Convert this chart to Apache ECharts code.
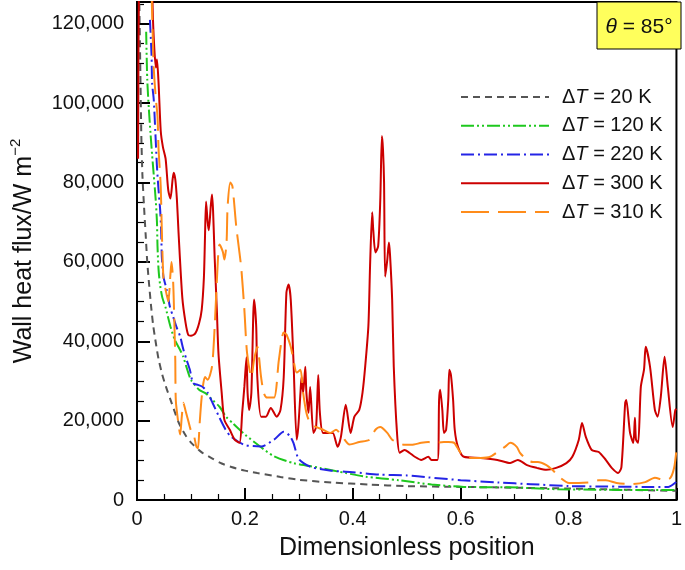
<!DOCTYPE html>
<html>
<head>
<meta charset="utf-8">
<script src="https://cdn.jsdelivr.net/npm/echarts@6/dist/echarts.min.js"></script>
<style>
html,body{margin:0;padding:0;background:#fff;}
#chart{width:685px;height:570px;}
</style>
</head>
<body>
<div id="chart"></div>
<script>
// ---- data (x = dimensionless position, y = wall heat flux W m^-2) ----
const seriesNames = ['ΔT = 20 K', 'ΔT = 120 K', 'ΔT = 220 K', 'ΔT = 300 K', 'ΔT = 310 K'];
const xTickValues = [0, 0.2, 0.4, 0.6, 0.8, 1];
const yTickValues = [0, 20000, 40000, 60000, 80000, 100000, 120000];

const dT20 = [[0.004,128000],[0.006,110000],[0.008,92000],[0.010,82000],[0.013,74000],[0.016,67000],[0.019,60000],[0.022,55000],[0.026,49000],[0.030,44000],[0.035,39500],[0.040,35500],[0.047,31500],[0.055,28000],[0.062,25300],[0.070,22200],[0.077,19600],[0.090,16300],[0.102,14200],[0.120,12000],[0.139,10500],[0.157,9200],[0.175,8300],[0.200,7400],[0.223,6800],[0.266,5800],[0.300,5100],[0.360,4400],[0.430,3900],[0.500,3500],[0.600,3300],[0.700,3100],[0.800,2900],[0.900,2600],[1.000,2300]];

const dT120 = [[0.017,118000],[0.019,106000],[0.022,98500],[0.025,92500],[0.028,87000],[0.031,82000],[0.035,75000],[0.037,70000],[0.038,64000],[0.040,58000],[0.043,54000],[0.047,51000],[0.053,48500],[0.062,43700],[0.070,40400],[0.080,37800],[0.086,36000],[0.091,33800],[0.100,30300],[0.115,27800],[0.128,26800],[0.140,25200],[0.153,23500],[0.165,21000],[0.178,19300],[0.200,16500],[0.230,13300],[0.254,11000],[0.290,9300],[0.339,8100],[0.387,6800],[0.423,5900],[0.485,5000],[0.546,3900],[0.606,3300],[0.690,3200],[0.780,2700],[0.850,2600],[0.930,2500],[1.000,2500]];

const dT220 = [[0.024,121000],[0.027,112000],[0.028,105000],[0.031,101000],[0.034,92700],[0.037,84000],[0.040,78000],[0.043,73000],[0.045,67000],[0.046,61400],[0.049,56300],[0.055,53000],[0.061,48700],[0.067,46200],[0.073,43700],[0.080,41200],[0.086,37900],[0.092,35300],[0.098,32800],[0.104,29500],[0.113,29000],[0.122,28500],[0.131,27000],[0.140,24500],[0.152,21000],[0.164,17800],[0.174,16000],[0.199,13900],[0.230,13500],[0.254,15200],[0.272,17200],[0.283,16200],[0.290,14400],[0.300,10300],[0.323,8300],[0.360,7400],[0.400,7000],[0.450,6400],[0.500,6200],[0.540,5700],[0.600,5000],[0.670,4400],[0.730,4000],[0.800,3500],[0.870,3400],[0.940,3300],[0.985,3300],[1.000,4600]];

const dT300 = [[0.002,86000],[0.004,135000],[0.012,170000],[0.026,150000],[0.029,124000],[0.032,114000],[0.035,109000],[0.037,111000],[0.040,105000],[0.044,93000],[0.048,89000],[0.053,86000],[0.058,78000],[0.062,76000],[0.066,80800],[0.068,82500],[0.071,80800],[0.074,75700],[0.077,67400],[0.084,51000],[0.090,44700],[0.095,41600],[0.100,41400],[0.108,42000],[0.115,44500],[0.120,48000],[0.124,56000],[0.126,66000],[0.128,75200],[0.131,70000],[0.133,68000],[0.137,74500],[0.139,77000],[0.141,73000],[0.144,61000],[0.148,48000],[0.151,37000],[0.157,27000],[0.162,20200],[0.172,17700],[0.181,15200],[0.190,14400],[0.195,22000],[0.199,28500],[0.203,36000],[0.205,27000],[0.208,22700],[0.212,27000],[0.217,50500],[0.221,43700],[0.223,31000],[0.230,21000],[0.239,21000],[0.248,23200],[0.259,21000],[0.266,22700],[0.272,31000],[0.277,52300],[0.281,54300],[0.285,50500],[0.290,35300],[0.296,15200],[0.299,18400],[0.303,27000],[0.305,31000],[0.308,27000],[0.312,33600],[0.314,27000],[0.318,22000],[0.321,28500],[0.327,16900],[0.332,18400],[0.336,31500],[0.339,22000],[0.345,16900],[0.358,16900],[0.363,16900],[0.372,13400],[0.378,15900],[0.387,24000],[0.396,16900],[0.403,21000],[0.412,22700],[0.418,27000],[0.423,33600],[0.429,44000],[0.432,58800],[0.436,72500],[0.438,68000],[0.442,62400],[0.447,63900],[0.451,75700],[0.454,91700],[0.456,88400],[0.458,80000],[0.460,56300],[0.464,60600],[0.467,64900],[0.469,61900],[0.473,50500],[0.476,33600],[0.482,16900],[0.487,11900],[0.496,12600],[0.505,11900],[0.515,10900],[0.527,10100],[0.540,10900],[0.546,10100],[0.557,10100],[0.560,25200],[0.562,27800],[0.566,22700],[0.569,16900],[0.573,17700],[0.577,25200],[0.579,32800],[0.582,31500],[0.586,25200],[0.589,17700],[0.595,13400],[0.606,10900],[0.637,10600],[0.668,10100],[0.692,9300],[0.706,10100],[0.723,8800],[0.741,8100],[0.759,7600],[0.777,8100],[0.796,9300],[0.807,10900],[0.819,15200],[0.825,19400],[0.832,15900],[0.843,12600],[0.856,12100],[0.869,10100],[0.880,8100],[0.892,6800],[0.898,8300],[0.905,24500],[0.907,25200],[0.914,16900],[0.920,14400],[0.923,20700],[0.925,15200],[0.929,14400],[0.934,28500],[0.940,33000],[0.943,38600],[0.951,33600],[0.960,22700],[0.965,21000],[0.971,26000],[0.978,36100],[0.984,28500],[0.993,18400],[0.998,22700],[1.000,23000]];

const dT310 = [[0.027,128000],[0.029,118000],[0.031,109000],[0.035,101000],[0.038,96700],[0.040,88400],[0.044,79000],[0.046,68000],[0.049,56000],[0.053,53000],[0.058,50000],[0.062,57000],[0.064,60000],[0.067,55000],[0.069,46000],[0.071,35000],[0.072,25000],[0.077,19000],[0.080,16500],[0.083,21000],[0.086,24500],[0.090,22500],[0.095,20000],[0.100,17500],[0.105,16500],[0.110,13500],[0.113,13000],[0.116,19000],[0.120,26000],[0.126,31000],[0.131,30300],[0.139,33600],[0.144,43700],[0.150,60600],[0.153,64400],[0.159,62600],[0.162,60600],[0.166,64900],[0.168,74000],[0.173,80000],[0.177,79000],[0.184,68900],[0.193,58800],[0.199,48000],[0.204,37100],[0.212,31000],[0.217,35300],[0.223,38600],[0.230,31000],[0.235,27000],[0.241,25800],[0.254,25800],[0.263,35300],[0.272,42200],[0.277,41700],[0.285,38600],[0.290,35300],[0.296,32100],[0.303,32800],[0.308,27000],[0.314,22000],[0.321,19400],[0.332,18400],[0.345,17700],[0.358,16900],[0.369,17700],[0.381,15900],[0.394,14000],[0.412,14600],[0.431,15200],[0.442,17700],[0.451,18400],[0.464,16900],[0.473,15200],[0.485,14400],[0.496,13900],[0.509,13900],[0.527,14400],[0.540,14600],[0.551,14400],[0.569,14600],[0.577,14600],[0.588,14400],[0.600,11900],[0.619,10600],[0.637,10600],[0.655,10900],[0.673,12600],[0.682,13400],[0.692,14400],[0.704,13400],[0.710,11900],[0.723,10100],[0.734,9600],[0.743,9600],[0.759,8800],[0.770,7600],[0.783,5800],[0.801,4300],[0.819,4300],[0.843,4500],[0.856,5000],[0.869,5000],[0.889,4300],[0.916,4000],[0.942,4500],[0.960,5600],[0.978,5000],[0.989,5600],[0.996,8300],[1.000,12600]];

const seriesData = [dT20, dT120, dT220, dT300, dT310];
const seriesColors = ['#555555', '#1ec81e', '#2424e6', '#cc0000', '#ff8c1a'];
const seriesDash = [[7,5], [13,3,2,3,2,3], [13,4,2,4], 'solid', [28,9]];

const FONT = "'Liberation Sans', Arial, Helvetica, sans-serif";

function fmtThousands(v) {
  return String(Math.round(v)).replace(/\B(?=(\d{3})+(?!\d))/g, ',');
}

const chart = echarts.init(document.getElementById('chart'), null, {renderer: 'canvas'});

const option = {
  animation: false,
  backgroundColor: '#ffffff',
  grid: {
    left: 132, right: 4, top: 2, bottom: 70,
    show: true, borderColor: '#000', borderWidth: 2, backgroundColor: 'transparent'
  },
  xAxis: {
    type: 'value', min: 0, max: 1, interval: 0.2,
    name: 'Dimensionless position', nameLocation: 'middle', nameGap: 36,
    nameTextStyle: {fontFamily: FONT, fontSize: 25, color: '#111'},
    axisLine: {show: true, lineStyle: {color: '#000', width: 2}},
    axisTick: {show: true, inside: true, length: 12, lineStyle: {color: '#000', width: 2}},
    minorTick: {show: true, splitNumber: 4, length: 6, lineStyle: {color: '#000', width: 1.2}},
    splitLine: {show: false},
    axisLabel: {
      fontFamily: FONT, fontSize: 20, color: '#111', margin: 9,
      formatter: function (v) {
        const r = Math.round(v * 10) / 10;
        return xTickValues.indexOf(r) >= 0 ? String(r) : '';
      }
    }
  },
  yAxis: {
    type: 'value', min: 0, max: 125500, interval: 20000,
    name: '{m|Wall heat flux/W m}{s|−2}', nameLocation: 'middle', nameGap: 97,
    nameTextStyle: {
      fontFamily: FONT, fontSize: 25, color: '#111',
      rich: {
        m: {fontFamily: FONT, fontSize: 25, color: '#111', lineHeight: 32},
        s: {fontFamily: FONT, fontSize: 15, color: '#111', lineHeight: 15, verticalAlign: 'top'}
      }
    },
    axisLine: {show: true, lineStyle: {color: '#000', width: 2}},
    axisTick: {show: true, inside: true, length: 13, lineStyle: {color: '#000', width: 2}},
    minorTick: {show: true, splitNumber: 4, length: 7, lineStyle: {color: '#000', width: 1.2}},
    splitLine: {show: false},
    axisLabel: {
      fontFamily: FONT, fontSize: 20, color: '#111', margin: 13,
      formatter: function (v) {
        return yTickValues.indexOf(Math.round(v)) >= 0 ? fmtThousands(v) : '';
      }
    }
  },
  legend: {
    orient: 'vertical', left: 460, top: 87, padding: 0,
    itemWidth: 88, itemHeight: 20, itemGap: 8.75,
    data: seriesNames,
    itemStyle: {opacity: 0},
    formatter: function (name) {
      return '{d|Δ}{t|T}{r|' + name.replace('ΔT', '') + '}';
    },
    textStyle: {
      fontFamily: FONT, fontSize: 20, color: '#111', lineHeight: 20,
      rich: {
        d: {fontFamily: FONT, fontSize: 20, color: '#111', lineHeight: 20, padding: [0, 0, 0, 8]},
        t: {fontFamily: FONT, fontSize: 20, color: '#111', lineHeight: 20, fontStyle: 'italic'},
        r: {fontFamily: FONT, fontSize: 20, color: '#111', lineHeight: 20}
      }
    }
  },
  graphic: [
    {
      type: 'rect', z: 100,
      shape: {x: 597, y: 2, width: 84, height: 47},
      style: {fill: '#ffff5c', stroke: '#000', lineWidth: 1}
    },
    {
      type: 'text', z: 101,
      style: {
        x: 639, y: 27, align: 'center', verticalAlign: 'middle',
        text: '{i|θ}{n| = 85°}',
        rich: {
          i: {fontFamily: FONT, fontSize: 21, fontStyle: 'italic', fill: '#111'},
          n: {fontFamily: FONT, fontSize: 21, fill: '#111'}
        }
      }
    }
  ],
  series: seriesNames.map(function (name, i) {
    return {
      name: name,
      type: 'line',
      data: seriesData[i],
      showSymbol: false,
      symbol: 'none',
      smooth: 0.25,
      clip: true,
      color: seriesColors[i],
      lineStyle: {color: seriesColors[i], width: 2, type: seriesDash[i]},
      emphasis: {disabled: true}
    };
  })
};

chart.setOption(option);
</script>
</body>
</html>
